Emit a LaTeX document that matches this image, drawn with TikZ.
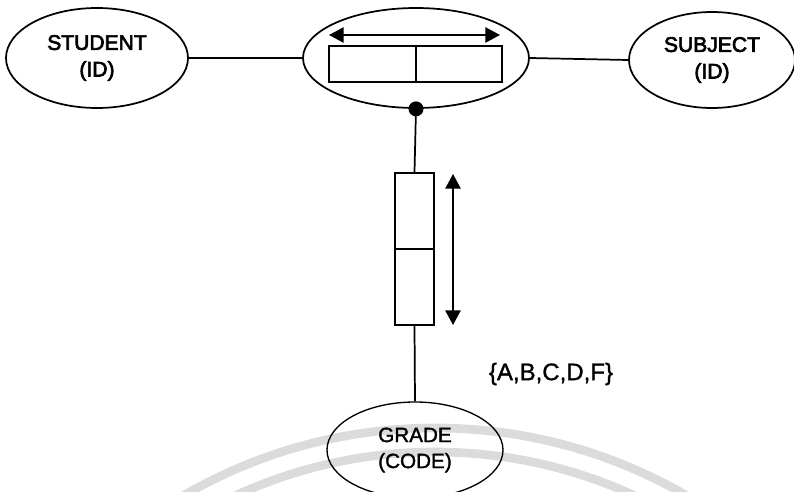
\documentclass[tikz,border=0pt]{standalone}
\usepackage{fontspec}
\setmainfont{Liberation Sans}
\newcommand{\heavytext}[2]{\special{pdf:literal direct 2 Tr #1 w}#2\special{pdf:literal direct 0 Tr}}
\usetikzlibrary{shapes.geometric,arrows.meta}
\begin{document}
\begin{tikzpicture}[x=0.75pt,y=-0.75pt,
  ent/.style={draw, ellipse, line width=1.3pt, inner sep=0pt, align=center,
    font=\fontsize{15.8}{20}\selectfont},
  gent/.style={draw, ellipse, line width=1.0pt, inner sep=0pt, align=center,
    font=\fontsize{15.5}{19.5}\selectfont},
  cell/.style={draw, rectangle, line width=1.3pt, inner sep=0pt},
  conn/.style={line width=1.3pt},
  dbl/.style={line width=1.2pt,
    {Triangle[length=11pt,width=11.5pt]}-{Triangle[length=11pt,width=11.5pt]}},
  wm/.style={line width=6.5pt, draw=black!14},
  lbl/.style={font=\fontsize{18}{20}\selectfont, inner sep=0pt}]
\useasboundingbox (0,0) rectangle (794,492);
% faint background arcs
\begin{scope}
  \clip (0,0) rectangle (794,492);
  \draw[wm] (435,929) circle[radius=501*0.75pt];
  \draw[wm] (435,929) circle[radius=477*0.75pt];
\end{scope}
% entities
\node[ent, minimum width=182*0.75pt, minimum height=100*0.75pt] (student) at (97,58) {\heavytext{0.5}{STUDENT}\\\heavytext{0.5}{(ID)}};
\node[ent, minimum width=226*0.75pt, minimum height=100*0.75pt] (rel) at (416,58) {};
\node[ent, minimum width=166*0.75pt, minimum height=96*0.75pt] (subject) at (712,60) {\heavytext{0.5}{SUBJECT}\\\heavytext{0.5}{(ID)}};
\node[gent, minimum width=176*0.75pt, minimum height=96*0.75pt] (grade) at (415,450) {\heavytext{0.25}{GRADE}\\\heavytext{0.25}{(CODE)}};
% composite key boxes
\node[cell, minimum width=87*0.75pt, minimum height=36*0.75pt] (k1) at (372.5,64) {};
\node[cell, minimum width=86*0.75pt, minimum height=36*0.75pt] (k2) at (459,64) {};
\coordinate (ha) at (329,35);
\coordinate (hb) at (500,35);
\draw[dbl] (ha) -- (hb);
% attribute boxes
\node[cell, minimum width=39*0.75pt, minimum height=76*0.75pt] (v1) at (414.5,211) {};
\node[cell, minimum width=39*0.75pt, minimum height=76*0.75pt] (v2) at (414.5,287) {};
\coordinate (va) at (453,174);
\coordinate (vb) at (453,325);
\draw[dbl] (va) -- (vb);
% dot
\node[circle, fill=black, minimum size=15*0.75pt, inner sep=0pt] (dot) at (rel.south) {};
% connectors
\draw[conn] (student.east) -- (rel.west);
\draw[conn] (rel.east) -- (subject.west);
\draw[conn] (dot.center) -- (v1.north);
\draw[conn] (v2.south) -- (grade.north);
% value set
\node[lbl] (vals) at (551,374) {\heavytext{0.2}{\{A,B,C,D,F\}}};
\end{tikzpicture}
\end{document}
